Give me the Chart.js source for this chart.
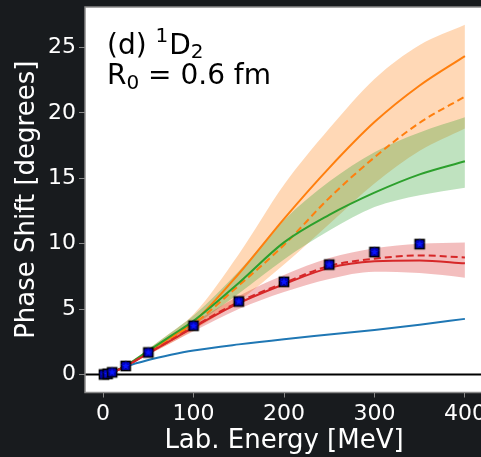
<!DOCTYPE html>
<html><head><meta charset="utf-8">
<style>
html,body{margin:0;padding:0;background:#181b1e;overflow:hidden;width:481px;height:457px}
#wrap{position:absolute;left:0;top:0;width:490px;height:457px}
canvas{display:block}
</style>
<script src="https://cdn.jsdelivr.net/npm/chart.js@4/dist/chart.umd.min.js"></script>
</head><body><div id="wrap"><canvas id="c" width="490" height="457"></canvas></div>
<script>
// ---- data ----
const energies    = [0, 5, 10, 25, 50, 75, 100, 150, 200, 250, 300, 350, 400];
const blueLine    = [0, 0.05, 0.18, 0.6, 1.1, 1.5, 1.83, 2.3, 2.7, 3.05, 3.4, 3.8, 4.25];
const orangeLine  = [0, 0.03, 0.15, 0.65, 1.75, 2.85, 4.0, 7.7, 11.9, 15.8, 19.3, 22.1, 24.35];
const orangeDash  = [0, 0.03, 0.15, 0.65, 1.72, 2.75, 3.85, 6.8, 9.9, 13.5, 16.6, 19.25, 21.25];
const orangeUpper = [0, 0.04, 0.17, 0.72, 1.95, 3.2, 4.6, 9.2, 14.5, 18.8, 22.6, 25.2, 26.75];
const orangeLower = [0, 0.02, 0.13, 0.58, 1.5, 2.4, 3.4, 5.6, 8.4, 11.5, 14.6, 17.1, 18.8];
const greenLine   = [0, 0.03, 0.15, 0.66, 1.8, 2.95, 4.1, 7.0, 10.1, 12.2, 13.9, 15.3, 16.3];
const greenUpper  = [0, 0.04, 0.17, 0.72, 1.95, 3.2, 4.5, 7.9, 11.8, 14.75, 17.0, 18.5, 19.66];
const greenLower  = [0, 0.02, 0.13, 0.6, 1.65, 2.7, 3.75, 6.2, 8.8, 11.0, 12.8, 13.7, 14.28];
const redLine     = [0, 0.03, 0.15, 0.63, 1.62, 2.6, 3.6, 5.45, 6.9, 8.15, 8.65, 8.72, 8.5];
const redDash     = [0, 0.03, 0.15, 0.63, 1.63, 2.62, 3.65, 5.55, 7.0, 8.3, 8.85, 9.1, 8.95];
const redUpper    = [0, 0.04, 0.17, 0.68, 1.75, 2.85, 3.95, 6.0, 7.6, 8.9, 9.65, 10.0, 10.1];
const redLower    = [0, 0.02, 0.13, 0.58, 1.5, 2.4, 3.3, 5.0, 6.3, 7.3, 7.85, 7.75, 7.4];
const dataEnergies = [1, 5, 10, 25, 50, 100, 150, 200, 250, 300, 350];
const dataPhases   = [0.0, 0.04, 0.16, 0.65, 1.68, 3.72, 5.58, 7.08, 8.4, 9.36, 9.97];
const xTicks = [0, 100, 200, 300, 400];
const yTicks = [0, 5, 10, 15, 20, 25];

const pts = (ys, xs = energies) => xs.map((x, i) => ({x, y: ys[i]}));

function makeMarker() {
  const c = document.createElement('canvas'); c.width = 16; c.height = 16;
  const g = c.getContext('2d');
  g.fillStyle = '#0000f0'; g.strokeStyle = '#000'; g.lineWidth = 1.7;
  g.fillRect(3.5, 3.5, 9, 9); g.strokeRect(3.5, 3.5, 9, 9);
  g.beginPath();
  for (let i = 0; i < 10; i++) {
    const r = i % 2 ? 2.2 : 5.2, a = -Math.PI / 2 + i * Math.PI / 5;
    g.lineTo(8 + r * Math.cos(a), 8 + r * Math.sin(a));
  }
  g.closePath(); g.fillStyle = '#0a14ff'; g.fill();
  g.strokeStyle = '#00006a'; g.lineWidth = 0.6; g.stroke();
  return c;
}

const line = (data, color, order, dash) => ({data: pts(data), borderColor: color, borderWidth: 2,
  borderDash: dash || [], pointRadius: 0, fill: false, order, cubicInterpolationMode: 'monotone'});
const bandLo = (data, order) => ({data: pts(data), borderWidth: 0, pointRadius: 0, fill: false, order,
  borderColor: 'rgba(0,0,0,0)', cubicInterpolationMode: 'monotone'});
const bandHi = (data, color, order) => ({data: pts(data), borderWidth: 0, pointRadius: 0, fill: '-1',
  backgroundColor: color, borderColor: 'rgba(0,0,0,0)', order, cubicInterpolationMode: 'monotone'});

const datasets = [
  bandLo(orangeLower, 30), bandHi(orangeUpper, 'rgba(255,127,14,0.3)', 30),
  bandLo(greenLower, 29), bandHi(greenUpper, 'rgba(44,160,44,0.3)', 29),
  bandLo(redLower, 28), bandHi(redUpper, 'rgba(214,39,40,0.3)', 28),
  line(blueLine, '#1f77b4', 10),
  line(orangeLine, '#ff7f0e', 9),
  line(orangeDash, '#ff7f0e', 8, [7, 4]),
  line(greenLine, '#2ca02c', 7),
  line(redLine, '#d62728', 6),
  line(redDash, '#d62728', 5, [7, 4]),
  {data: pts(dataPhases, dataEnergies), showLine: false, pointStyle: makeMarker(), pointRadius: 6, order: 0}
];

const FONT = 'DejaVu Sans';
const framePlugin = {
  id: 'frame',
  beforeDraw(chart) {
    const {ctx, chartArea: a} = chart;
    ctx.save(); ctx.fillStyle = '#ffffff';
    ctx.fillRect(a.left, a.top, a.right - a.left, a.bottom - a.top); ctx.restore();
  },
  beforeDatasetsDraw(chart) {
    const {ctx, chartArea: a, scales: {y}} = chart;
    const py = y.getPixelForValue(0);
    ctx.save(); ctx.strokeStyle = '#000'; ctx.lineWidth = 2;
    ctx.beginPath(); ctx.moveTo(a.left, py); ctx.lineTo(a.right, py); ctx.stroke(); ctx.restore();
  },
  afterDraw(chart) {
    const {ctx, chartArea: a} = chart;
    ctx.save(); ctx.strokeStyle = '#8a8a8a'; ctx.lineWidth = 1.5;
    ctx.strokeRect(a.left, a.top, a.right - a.left, a.bottom - a.top);
    // annotation text
    ctx.fillStyle = '#000'; ctx.textBaseline = 'alphabetic';
    const big = '28px "' + FONT + '"', small = '20px "' + FONT + '"';
    let x = a.left + 22, y1 = a.top + 47, y2 = a.top + 77;
    ctx.font = big; ctx.fillText('(d) ', x, y1); x += ctx.measureText('(d) ').width;
    ctx.font = small; ctx.fillText('1', x, y1 - 12); x += ctx.measureText('1').width + 1;
    ctx.font = big; ctx.fillText('D', x, y1); x += ctx.measureText('D').width;
    ctx.font = small; ctx.fillText('2', x, y1 + 4);
    x = a.left + 22;
    ctx.font = big; ctx.fillText('R', x, y2); x += ctx.measureText('R').width;
    ctx.font = small; ctx.fillText('0', x, y2 + 5); x += ctx.measureText('0').width;
    ctx.font = big; ctx.fillText(' = 0.6 fm', x, y2);
    ctx.restore();
  }
};

new Chart(document.getElementById('c'), {
  type: 'line',
  data: {datasets},
  options: {
    responsive: false, animation: false, devicePixelRatio: 1,
    layout: {padding: {top: 5, right: 5, left: 0, bottom: 0}},
    plugins: {legend: {display: false}, tooltip: {enabled: false}},
    scales: {
      x: {
        type: 'linear', min: -20, max: 420,
        afterBuildTicks: s => { s.ticks = xTicks.map(v => ({value: v})); },
        afterFit: s => { s.height = 64.5; s.paddingLeft = 0; s.paddingRight = 0; },
        grid: {drawOnChartArea: false, drawTicks: true, tickLength: 5, color: '#8a8a8a', lineWidth: 1},
        border: {display: false},
        ticks: {color: '#ffffff', font: {family: FONT, size: 22}, padding: 4, maxRotation: 0},
        title: {display: true, text: 'Lab. Energy [MeV]', color: '#ffffff', font: {family: FONT, size: 26}, padding: {top: 0, bottom: 0}}
      },
      y: {
        type: 'linear', min: -1.38, max: 28.1,
        afterBuildTicks: s => { s.ticks = yTicks.map(v => ({value: v})); },
        afterFit: s => { s.width = 85; s.paddingTop = 0; s.paddingBottom = 0; },
        grid: {drawOnChartArea: false, drawTicks: true, tickLength: 6, color: '#8a8a8a', lineWidth: 1},
        border: {display: false},
        ticks: {color: '#ffffff', font: {family: FONT, size: 22}, padding: 3},
        title: {display: true, text: 'Phase Shift [degrees]', color: '#ffffff', font: {family: FONT, size: 26}, padding: {top: 12, bottom: 0}}
      }
    }
  },
  plugins: [framePlugin]
});
</script>
</body></html>
